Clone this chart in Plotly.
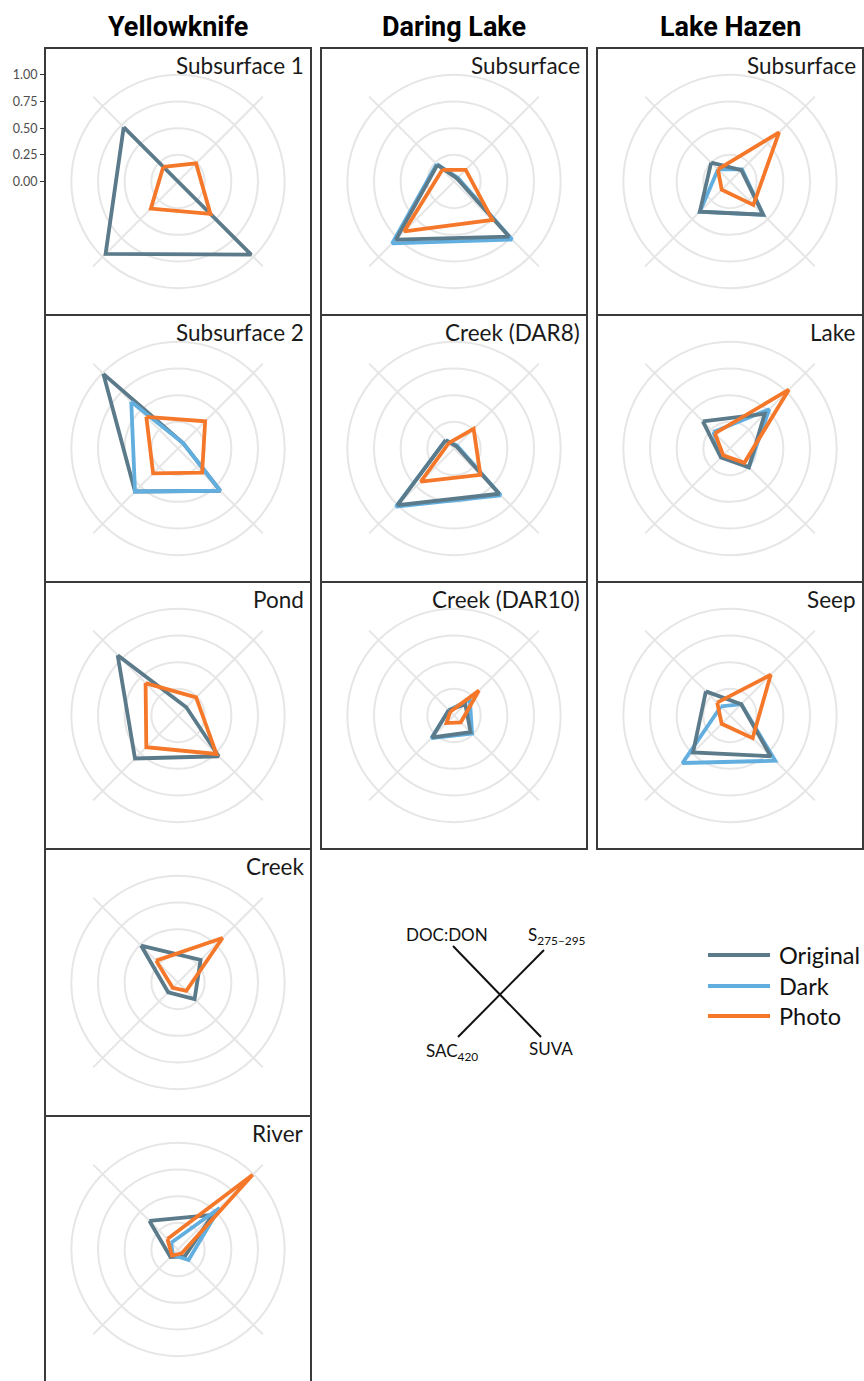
import plotly.graph_objects as go

W, H = 864, 1381

# radar spokes, in drawing order (clockwise from upper-left)
params = ["DOC:DON", "S275-295", "SUVA", "SAC420"]
treatments = ["Original", "Dark", "Photo"]
colors = {"Original": "#5B7A8A", "Dark": "#62AEDF", "Photo": "#F5782A"}

sites = ["Yellowknife", "Daring Lake", "Lake Hazen"]
yellowknife_panels = ["Subsurface 1", "Subsurface 2", "Pond", "Creek", "River"]
daring_panels = ["Subsurface", "Creek (DAR8)", "Creek (DAR10)"]
hazen_panels = ["Subsurface", "Lake", "Seep"]

# scaled values (0-1) in the order DOC:DON, S275-295, SUVA, SAC420
yellowknife_original = {
    "Subsurface 1": [0.72, 0.00, 0.97, 0.96],
    "Subsurface 2": [0.99, 0.07, 0.56, 0.57],
    "Pond": [0.80, 0.11, 0.54, 0.57],
    "Creek": [0.49, 0.30, 0.22, 0.13],
    "River": [0.38, 0.46, 0.09, 0.10],
}
yellowknife_dark = {
    "Subsurface 2": [0.62, 0.07, 0.56, 0.57],
    "River": [0.09, 0.55, 0.14, 0.07],
}
yellowknife_photo = {
    "Subsurface 1": [0.195, 0.24, 0.43, 0.36],
    "Subsurface 2": [0.42, 0.36, 0.32, 0.33],
    "Pond": [0.43, 0.24, 0.51, 0.42],
    "Creek": [0.29, 0.59, 0.11, 0.07],
    "River": [0.14, 0.99, 0.05, 0.08],
}
daring_original = {
    "Subsurface": [0.22, 0.04, 0.73, 0.77],
    "Creek (DAR8)": [0.11, 0.03, 0.60, 0.75],
    "Creek (DAR10)": [0.07, 0.15, 0.22, 0.29],
}
daring_dark = {
    "Subsurface": [0.23, 0.05, 0.77, 0.82],
    "Creek (DAR8)": [0.11, 0.04, 0.62, 0.77],
    "Creek (DAR10)": [0.07, 0.21, 0.24, 0.30],
}
daring_photo = {
    "Subsurface": [0.155, 0.155, 0.51, 0.66],
    "Creek (DAR8)": [0.07, 0.26, 0.35, 0.44],
    "Creek (DAR10)": [0.05, 0.33, 0.09, 0.10],
}
hazen_original = {
    "Subsurface": [0.25, 0.15, 0.44, 0.40],
    "Lake": [0.36, 0.46, 0.25, 0.12],
    "Seep": [0.32, 0.15, 0.54, 0.49],
}
hazen_dark = {
    "Subsurface": [0.16, 0.16, 0.44, 0.40],
    "Lake": [0.22, 0.52, 0.25, 0.11],
    "Seep": [0.12, 0.15, 0.60, 0.63],
}
hazen_photo = {
    "Subsurface": [0.16, 0.65, 0.31, 0.11],
    "Lake": [0.20, 0.78, 0.19, 0.09],
    "Seep": [0.17, 0.54, 0.30, 0.11],
}

radial_ticks = [0.00, 0.25, 0.50, 0.75, 1.00]
radial_ticktext = ["0.00", "0.25", "0.50", "0.75", "1.00"]

# (panels, series per treatment, stacking order of the lines)
columns = [
    (yellowknife_panels,
     {"Original": yellowknife_original, "Dark": yellowknife_dark, "Photo": yellowknife_photo},
     ["Original", "Dark", "Photo"]),
    (daring_panels,
     {"Original": daring_original, "Dark": daring_dark, "Photo": daring_photo},
     ["Dark", "Original", "Photo"]),
    (hazen_panels,
     {"Original": hazen_original, "Dark": hazen_dark, "Photo": hazen_photo},
     ["Dark", "Original", "Photo"]),
]

# ---- page geometry (pixels) ----
COL_LEFT = [45, 321, 597]
PANEL_W = 266
ROW_TOP0 = 48
PANEL_H = 267
R_MAX = 1.125          # spokes run a little past the 1.0 ring
POLAR_R_PX = 120       # drawn radius of r = R_MAX
GRID = "#E6E6E6"
FRAME = "#3A3A3A"
FONT = "Lato"


def px(x):
    return x / W


def py(y):
    return 1 - y / H


fig = go.Figure()

# empty cartesian layer that carries the radial scale beside the first panel
fig.add_trace(go.Scatter(x=[], y=[], xaxis="x", yaxis="y", showlegend=False,
                         hoverinfo="skip"))

layout_polars = {}
shapes = []
annotations = []

n = 0
for ci, (panels, data, order) in enumerate(columns):
    left = COL_LEFT[ci]
    for ri, name in enumerate(panels):
        n += 1
        pid = "polar" if n == 1 else f"polar{n}"
        top = ROW_TOP0 + ri * PANEL_H
        cx = left + PANEL_W / 2
        cy = top + PANEL_H / 2
        layout_polars[pid] = dict(
            domain=dict(x=[px(cx - POLAR_R_PX), px(cx + POLAR_R_PX)],
                        y=[py(cy + POLAR_R_PX), py(cy - POLAR_R_PX)]),
            bgcolor="rgba(0,0,0,0)",
            radialaxis=dict(range=[0, R_MAX], tickvals=radial_ticks[1:], showticklabels=False,
                            ticks="", showline=False, gridcolor=GRID, gridwidth=1.8,
                            layer="below traces"),
            angularaxis=dict(type="category", categoryarray=params, rotation=135,
                             direction="clockwise", showline=False, showticklabels=False,
                             ticks="", gridcolor=GRID, gridwidth=1.8, layer="below traces"),
        )
        for t in order:
            vals = data[t].get(name)
            if vals is None:
                continue
            fig.add_trace(go.Scatterpolar(
                r=vals + [vals[0]], theta=params + [params[0]],
                mode="lines", name=t, subplot=pid, showlegend=False,
                line=dict(color=colors[t], width=3.8),
                hoverinfo="skip",
            ))
        # panel frame
        shapes.append(dict(type="rect", xref="paper", yref="paper",
                           x0=px(left), x1=px(left + PANEL_W),
                           y0=py(top + PANEL_H), y1=py(top),
                           line=dict(color=FRAME, width=2), layer="above"))
        # panel label
        annotations.append(dict(text=name, xref="paper", yref="paper",
                                x=px(left + PANEL_W - 5), y=py(top + 2),
                                xanchor="right", yanchor="top", showarrow=False,
                                font=dict(family=FONT, size=22.5, color="#1A1A1A")))
    # column heading
    annotations.append(dict(text=f"<b>{sites[ci]}</b>", xref="paper", yref="paper",
                            x=px(left + PANEL_W / 2), y=py(27), xanchor="center",
                            yanchor="middle", showarrow=False,
                            font=dict(family="Roboto", size=27, color="#000000")))

# radial scale shown beside the first panel
cy0 = ROW_TOP0 + PANEL_H / 2
unit_px = POLAR_R_PX / R_MAX
fig.update_layout(
    xaxis=dict(domain=[px(COL_LEFT[0]), px(COL_LEFT[0] + PANEL_W)], range=[0, 1],
               showgrid=False, zeroline=False, showline=False, showticklabels=False,
               ticks="", fixedrange=True),
    yaxis=dict(domain=[py(ROW_TOP0 + PANEL_H), py(ROW_TOP0)],
               range=[-(ROW_TOP0 + PANEL_H - cy0) / unit_px, (cy0 - ROW_TOP0) / unit_px],
               tickmode="array", tickvals=radial_ticks, ticktext=radial_ticktext,
               ticks="outside", ticklen=4, tickwidth=1.2, tickcolor="#333333",
               showgrid=False, zeroline=False, showline=False, fixedrange=True,
               tickfont=dict(family=FONT, size=12.5, color="#4D4D4D")),
)

# spoke key
key_lines = [((453, 946), (541, 1037)), ((544, 950), (458, 1037))]
for (x0, y0), (x1, y1) in key_lines:
    shapes.append(dict(type="line", xref="paper", yref="paper",
                       x0=px(x0), y0=py(y0), x1=px(x1), y1=py(y1),
                       line=dict(color="#111111", width=2)))
key_labels = [
    ("DOC:DON", 447, 934, "center"),
    ("S<sub>275–295</sub>", 526, 936, "left"),
    ("SAC<sub>420</sub>", 452, 1052, "center"),
    ("SUVA", 551, 1048, "center"),
]
for txt, x, y, xa in key_labels:
    annotations.append(dict(text=txt, xref="paper", yref="paper", x=px(x), y=py(y),
                            xanchor=xa, yanchor="middle", showarrow=False,
                            font=dict(family=FONT, size=17, color="#111111")))

# legend
legend_y = {"Original": 955, "Dark": 986, "Photo": 1016}
for t in treatments:
    y = legend_y[t]
    shapes.append(dict(type="line", xref="paper", yref="paper",
                       x0=px(708), x1=px(770), y0=py(y), y1=py(y),
                       line=dict(color=colors[t], width=4)))
    annotations.append(dict(text=t, xref="paper", yref="paper", x=px(777), y=py(y),
                            xanchor="left", yanchor="middle", showarrow=False,
                            font=dict(family=FONT, size=23.5, color="#111111")))

fig.update_layout(
    width=W, height=H,
    margin=dict(l=0, r=0, t=0, b=0),
    paper_bgcolor="white", plot_bgcolor="rgba(0,0,0,0)",
    showlegend=False,
    shapes=shapes, annotations=annotations,
    **layout_polars,
)

fig.write_html("out.html")
